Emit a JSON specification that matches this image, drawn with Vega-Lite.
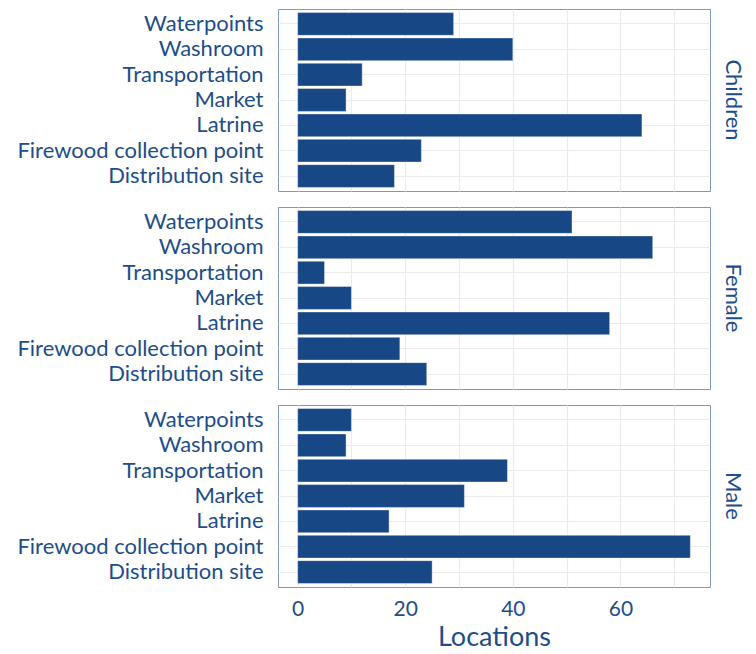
{
  "$schema": "https://vega.github.io/schema/vega-lite/v6.json",
  "padding": {"left": 16, "top": 8, "right": 5, "bottom": 0},
  "data": {"values": [
    {"group": "Children", "location": "Waterpoints", "n": 29},
    {"group": "Children", "location": "Washroom", "n": 40},
    {"group": "Children", "location": "Transportation", "n": 12},
    {"group": "Children", "location": "Market", "n": 9},
    {"group": "Children", "location": "Latrine", "n": 64},
    {"group": "Children", "location": "Firewood collection point", "n": 23},
    {"group": "Children", "location": "Distribution site", "n": 18},
    {"group": "Female", "location": "Waterpoints", "n": 51},
    {"group": "Female", "location": "Washroom", "n": 66},
    {"group": "Female", "location": "Transportation", "n": 5},
    {"group": "Female", "location": "Market", "n": 10},
    {"group": "Female", "location": "Latrine", "n": 58},
    {"group": "Female", "location": "Firewood collection point", "n": 19},
    {"group": "Female", "location": "Distribution site", "n": 24},
    {"group": "Male", "location": "Waterpoints", "n": 10},
    {"group": "Male", "location": "Washroom", "n": 9},
    {"group": "Male", "location": "Transportation", "n": 39},
    {"group": "Male", "location": "Market", "n": 31},
    {"group": "Male", "location": "Latrine", "n": 17},
    {"group": "Male", "location": "Firewood collection point", "n": 73},
    {"group": "Male", "location": "Distribution site", "n": 25}
  ]},
  "facet": {
    "row": {
      "field": "group", "type": "nominal",
      "header": {
        "title": null, "labelOrient": "right", "labelAngle": 90,
        "labelFont": "Lato", "labelFontSize": 22, "labelColor": "#1d4e89", "labelPadding": 10
      }
    }
  },
  "spacing": 14,
  "spec": {
    "width": 432,
    "height": 182,
    "mark": {"type": "bar", "color": "#174785", "stroke": "#ffffff", "strokeWidth": 0.4},
    "encoding": {
      "y": {
        "field": "location", "type": "nominal", "sort": "descending",
        "scale": {"paddingInner": 0.1, "paddingOuter": 0.14},
        "axis": {"title": null, "ticks": false, "domain": false, "labelFont": "Lato", "labelFontSize": 22,
          "labelLimit": 400, "labelColor": "#1d4e89", "labelPadding": 14, "grid": true, "gridColor": "#ebebeb", "gridWidth": 1.2}
      },
      "x": {
        "field": "n", "type": "quantitative",
        "scale": {"domain": [-3.65, 76.65], "nice": false, "zero": false},
        "axis": {"title": "Locations", "titleFont": "Lato", "titleFontSize": 27, "titleFontWeight": "normal",
          "titleColor": "#1d4e89", "titlePadding": 5,
          "values": [0, 10, 20, 30, 40, 50, 60, 70],
          "labelExpr": "datum.value % 20 === 0 ? datum.label : ''",
          "ticks": false, "domain": false, "labelFont": "Lato", "labelFontSize": 21, "labelColor": "#1d4e89",
          "labelPadding": 10, "grid": true, "gridColor": "#ebebeb", "gridWidth": 1.2}
      }
    }
  },
  "config": {
    "view": {"stroke": "#7f97bb", "strokeWidth": 1}
  }
}
